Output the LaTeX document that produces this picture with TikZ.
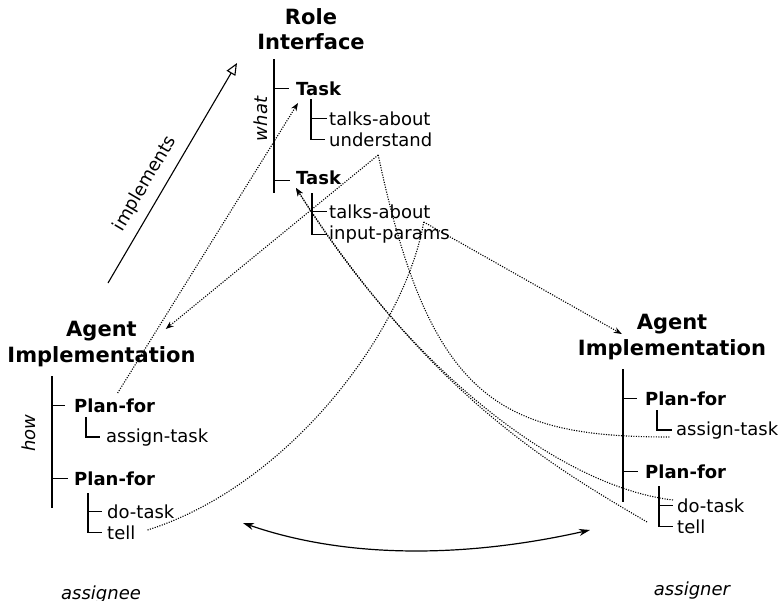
\documentclass[tikz,border=0pt]{standalone}
\usepackage{fontspec}
\setmainfont{DejaVu Sans}[BoldFont={DejaVu Sans Bold},ItalicFont={DejaVu Sans Oblique}]
\usetikzlibrary{arrows.meta}

\begin{document}
\begin{tikzpicture}[x=1pt,y=-1pt,
  head/.style={font=\bfseries\fontsize{21}{25.5}\selectfont,align=center,inner sep=0pt,anchor=north},
  sub/.style={font=\bfseries\fontsize{18}{21}\selectfont,inner sep=0pt,anchor=base west},
  item/.style={font=\fontsize{18}{21}\selectfont,inner sep=0pt,anchor=base west},
  tag/.style={font=\itshape\fontsize{18}{21}\selectfont,inner sep=0pt,anchor=base},
  tree/.style={line width=1.2pt},
  link/.style={dash pattern=on 1.1pt off 1.4pt,line width=1.1pt},
  linkto/.style={link,-{Stealth[length=8pt,width=6pt]}}]
  \useasboundingbox (0,0) rectangle (781,600);

  % role interface
  \node[head] (role) at (311,8) {Role\\Interface};
  \node[sub]  (task1) at (296,95)    {Task};
  \node[item] (ta1)   at (329,125.5) {talks-about};
  \node[item] (und1)  at (329,146.5) {understand};
  \node[sub]  (task2) at (296,184)   {Task};
  \node[item] (ta2)   at (329,218.5) {talks-about};
  \node[item] (inp2)  at (329,239.5) {input-params};
  \node[tag,rotate=90] (what) at (267,119) {what};

  \coordinate (whatbar) at (274,59);
  \draw[tree] (whatbar) -- ++(0,134);
  \draw[tree] (whatbar |- task1.west) -- ([xshift=-7pt]task1.west);
  \draw[tree] ([yshift=-3pt]whatbar |- task2.west) -- ([shift={(-6pt,-3pt)}]task2.west);
  \coordinate (tk1) at (311,99);
  \draw[tree] (tk1) |- ([xshift=-4pt]und1.west);
  \draw[tree] (tk1 |- ta1.west) -- ([xshift=-2pt]ta1.west);
  \coordinate (tk2) at (312,193);
  \draw[tree] (tk2) |- ([xshift=-2pt]inp2.west);
  \draw[tree] (tk2 |- ta2.west) -- ([xshift=-2pt]ta2.west);

  % assignee side
  \node[head] (agentL) at (101.5,321) {Agent\\Implementation};
  \node[sub]  (planL1) at (74,412)  {Plan-for};
  \node[item] (asgL)   at (106,442) {assign-task};
  \node[sub]  (planL2) at (74,485)  {Plan-for};
  \node[item] (doL)    at (107,518) {do-task};
  \node[item] (tellL)  at (107,539) {tell};
  \node[tag,rotate=90] (how) at (35,433) {how};
  \node[tag] (assignee) at (101,599) {assignee};

  \coordinate (howbar) at (52,376);
  \draw[tree] (howbar) -- ++(0,132);
  \draw[tree] (howbar |- planL1.west) -- ([xshift=-9pt]planL1.west);
  \draw[tree] (howbar |- planL2.west) -- ([xshift=-6pt]planL2.west);
  \coordinate (pl1) at (86,417);
  \draw[tree] (pl1) |- ([xshift=-6pt]asgL.west);
  \coordinate (pl2) at (88,493);
  \draw[tree] (pl2) |- ([xshift=-5pt]tellL.west);
  \draw[tree] (pl2 |- doL.west) -- ([xshift=-5pt]doL.west);

  % assigner side
  \node[head] (agentR) at (672,314) {Agent\\Implementation};
  \node[sub]  (planR1) at (645,405) {Plan-for};
  \node[item] (asgR)   at (676,435) {assign-task};
  \node[sub]  (planR2) at (645,478) {Plan-for};
  \node[item] (doR)    at (677,512) {do-task};
  \node[item] (tellR)  at (677,533) {tell};
  \node[tag] (assigner) at (692,595) {assigner};

  \coordinate (rbar) at (623,369);
  \draw[tree] (rbar) -- ++(0,133);
  \draw[tree] (rbar |- planR1.west) -- ([xshift=-8pt]planR1.west);
  \draw[tree] (rbar |- planR2.west) -- ([xshift=-7pt]planR2.west);
  \coordinate (pr1) at (657,410);
  \draw[tree] (pr1) |- ([xshift=-4pt]asgR.west);
  \coordinate (pr2) at (659,486);
  \draw[tree] (pr2) |- ([xshift=-4pt]tellR.west);
  \draw[tree] (pr2 |- doR.west) -- ([xshift=-4pt]doR.west);

  % implements
  \coordinate (implA) at (108,283);
  \coordinate (implB) at (237,63);
  \draw[line width=1.1pt,-{Triangle[open,length=12pt,width=10pt]}] (implA) -- node[item,sloped,anchor=south,pos=0.41,yshift=9pt] {implements} (implB);

  % references between the parts
  \path[linkto] ([shift={(3pt,19pt)}]planL1.base) edge ([shift={(2pt,-8pt)}]task1.base west)
                ([shift={(-2.5pt,-8.5pt)}]und1.base) edge ([shift={(-30pt,-8pt)}]agentL.north east)
                ([shift={(-7pt,-3.5pt)}]ta2.base east) edge ([shift={(44pt,-20pt)}]agentR.north west);
  \draw[link] ([shift={(-2.5pt,-8.5pt)}]und1.base) .. controls (430,400) and (500,437) .. ([shift={(-6pt,-2pt)}]asgR.base west);
  \draw[link] ([shift={(12pt,9pt)}]tellL.base east) .. controls (290,485) and (405,330) .. ([shift={(-7pt,-3.5pt)}]ta2.base east);
  \draw[linkto] ([shift={(-4pt,12pt)}]doR.base west) .. controls (570,488) and (420,385) .. ([yshift=-4pt]task2.base west);
  \draw[linkto] ([shift={(-30pt,11pt)}]tellR.base west) .. controls (550,465) and (430,395) .. ([yshift=-4pt]task2.base west);

  % the two agents talk
  \coordinate (lside) at (243,523);
  \coordinate (rside) at (590,530);
  \draw[line width=1.2pt,{Stealth[length=11pt,width=7pt]}-{Stealth[length=11pt,width=7pt]}] (lside) .. controls (350,560) and (470,557) .. (rside);
\end{tikzpicture}
\end{document}
